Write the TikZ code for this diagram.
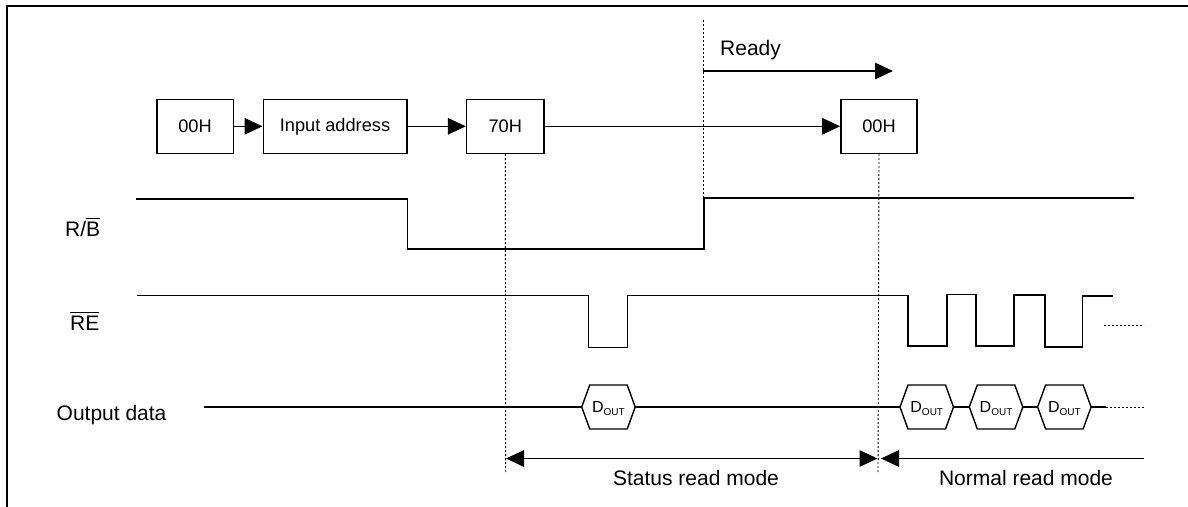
\documentclass[tikz,border=0pt]{standalone}
\usepackage{fontspec}
\setmainfont{Liberation Sans}
\usetikzlibrary{arrows.meta}

% overline drawn above a piece of text
\newcommand{\barred}[1]{\vbox{\hrule height 0.9pt \kern 3pt \hbox{#1}}}

\begin{document}
\begin{tikzpicture}[x=1pt,y=-1pt,
  wave/.style={line width=1.6pt, line join=miter},
  cmdbox/.style={draw, line width=1.6pt, minimum height=54pt, inner sep=0pt,
    font=\fontsize{18.2}{20}\selectfont},
  guide/.style={line width=0.9pt, dash pattern=on 2pt off 2pt},
  tri/.style={-{Triangle[length=18pt,width=16.5pt]}, line width=1.2pt},
  lbl/.style={font=\fontsize{21}{24}\selectfont, inner sep=0pt, anchor=base west},
  dout/.style={font=\fontsize{16}{17}\selectfont, inner sep=0pt, anchor=base},
]
\useasboundingbox (0,0) rectangle (1188,506);

% frame (only top and left edges fall inside the page)
\draw[line width=2.6pt] (7,510) -- (7,6) -- (1192,6);

% command sequence
\node[cmdbox, minimum width=76.6pt]  (c00a) at (195,126.3) {00H};
\node[cmdbox, minimum width=143.4pt] (addr) at (335,126.3) {Input address};
\node[cmdbox, minimum width=77.3pt]  (c70)  at (505.3,126.3) {70H};
\node[cmdbox, minimum width=76pt]    (c00b) at (879,126.3) {00H};
\draw[tri] (c00a) -- (addr);
\draw[tri] (addr) -- (c70);
\draw[tri] (c70) -- (c00b);

% ready marker
\coordinate (rdyTop) at (703.3,20);
\coordinate (rdyBot) at (703.3,198);
\draw[guide] (rdyTop) -- (rdyBot);
\coordinate (rdyS) at (703.3,71);
\coordinate (rdyE) at (893,71);
\draw[tri] (rdyS) -- (rdyE);
\node[lbl] (ready) at (720,55) {Ready};

% vertical guides below the command boxes
\coordinate (g70) at (505.7,473);
\coordinate (g00) at (878,473);
\draw[guide] (c70.south) -- (g70);
\draw[guide] (c00b.south) -- (g00);

% signal names
\node[lbl] (rbl) at (65,236.5) {R/\barred{B}};
\node[lbl] (rel) at (70,330) {\barred{RE}};
\node[lbl] (odl) at (56.5,420.5) {Output data};

% R/B waveform
\draw[wave] (136,199) -- (407.3,199) -- (407.3,249) -- (704,249) -- (704,198) -- (1134,198);

% RE waveform
\draw[wave] (136.7,295.5) -- (588.3,295.5) -- (588.3,347.5) -- (627.3,347.5) -- (627.3,295.5)
  -- (907.7,295.5) -- (907.7,346) -- (946.7,346) -- (946.7,294.5) -- (975.7,294.5)
  -- (975.7,346) -- (1013.7,346) -- (1013.7,295) -- (1045,295) -- (1045,347)
  -- (1082.3,347) -- (1082.3,295.7) -- (1113.3,295.7);
\coordinate (reDotA) at (1104,325.7);
\coordinate (reDotB) at (1144,325.7);
\draw[guide] (reDotA) -- (reDotB);

% output data bus with data windows
\foreach \n/\l in {h1/581.7, h2/900, h3/969.3, h4/1037.6} {
  \draw[line width=1.4pt, line join=miter] (\l,407) -- ++(8,-22) -- ++(37.5,0) -- ++(8,22)
    -- ++(-8,22) -- ++(-37.5,0) -- cycle;
  \coordinate (\n-w) at (\l,407);
  \coordinate (\n-e) at (\l+53.5,407);
  \node[dout] (\n) at (\l+26.75,412.8) {D\raisebox{-2.6pt}{\fontsize{10}{11}\selectfont OUT}};
}
\coordinate (busStart) at (203.6,407);
\coordinate (busMid) at (1106,407);
\coordinate (busEnd) at (1144,407);
\draw[line width=1.4pt] (busStart) -- (h1-w);
\draw[line width=1.4pt] (h1-e) -- (h2-w);
\draw[line width=1.4pt] (h2-e) -- (h3-w);
\draw[line width=1.4pt] (h3-e) -- (h4-w);
\draw[line width=1.4pt] (h4-e) -- (busMid);
\draw[guide] (busMid) -- (busEnd);

% mode spans
\coordinate (stA) at (506,458.5);
\coordinate (stB) at (877.5,458.5);
\coordinate (nmA) at (881,458.5);
\coordinate (nmB) at (1144,458.5);
\draw[{Triangle[length=18pt,width=16.5pt]}-{Triangle[length=18pt,width=16.5pt]}, line width=1.2pt] (stA) -- (stB);
\draw[tri] (nmB) -- (nmA);
\node[lbl, anchor=base] (stl) at (696,485.5) {Status read mode};
\node[lbl, anchor=base] (nml) at (1026,485.5) {Normal read mode};
\end{tikzpicture}
\end{document}
